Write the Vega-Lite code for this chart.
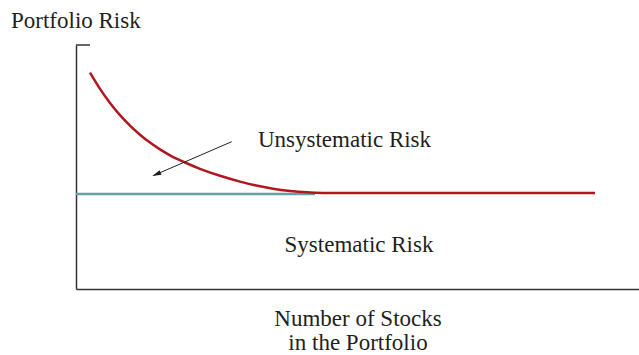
{
  "$schema": "https://vega.github.io/schema/vega-lite/v6.json",
  "width": 563,
  "height": 244,
  "autosize": {"type": "none"},
  "padding": {"left": 76, "top": 45, "right": 0, "bottom": 66},
  "background": "white",
  "config": {"view": {"stroke": null}},
  "datasets": {
    "curve": [
      {"n": 14, "risk": 216.3},
      {"n": 24, "risk": 200.1},
      {"n": 34, "risk": 186},
      {"n": 44, "risk": 173.9},
      {"n": 54, "risk": 163.4},
      {"n": 64, "risk": 154.3},
      {"n": 74, "risk": 146.4},
      {"n": 84, "risk": 139.6},
      {"n": 94, "risk": 133.7},
      {"n": 109, "risk": 126.5},
      {"n": 124, "risk": 120.2},
      {"n": 144, "risk": 113.2},
      {"n": 164, "risk": 107.4},
      {"n": 179, "risk": 103.7},
      {"n": 197, "risk": 100.3},
      {"n": 214, "risk": 98.1},
      {"n": 231, "risk": 96.7},
      {"n": 239, "risk": 96.3},
      {"n": 254, "risk": 96},
      {"n": 519, "risk": 96}
    ],
    "systematic": [
      {"n": 0, "risk": 95},
      {"n": 239, "risk": 95}
    ],
    "topTick": [{"n": 0, "n2": 14, "risk": 244}],
    "arrow": [{"n": 155.7, "risk": 147.3, "n2": 77.5, "risk2": 113.5}],
    "arrowHead": [{"n": 80.4, "risk": 114.8}],
    "leftLabels": [{"label": "Portfolio Risk", "n": -65, "risk": 261}],
    "centerLabels": [
      {"label": "Unsystematic Risk", "n": 268.5, "risk": 142.3},
      {"label": "Systematic Risk", "n": 283, "risk": 37.3},
      {"label": "Number of Stocks", "n": 282, "risk": -37},
      {"label": "in the Portfolio", "n": 282, "risk": -61}
    ]
  },
  "layer": [
    {
      "data": {"name": "systematic"},
      "mark": {"type": "line", "color": "#6a9fa6", "strokeWidth": 2.5},
      "encoding": {
        "x": {"field": "n", "type": "quantitative", "scale": {"domain": [0, 563], "nice": false, "zero": false},
              "axis": {"title": null, "labels": false, "ticks": false, "grid": false, "domainColor": "#333333", "domainWidth": 1.5}},
        "y": {"field": "risk", "type": "quantitative", "scale": {"domain": [0, 244], "nice": false, "zero": false},
              "axis": {"title": null, "labels": false, "ticks": false, "grid": false, "domainColor": "#333333", "domainWidth": 1.5}}
      }
    },
    {
      "data": {"name": "curve"},
      "mark": {"type": "line", "color": "#b0171f", "strokeWidth": 2.5, "interpolate": "monotone"},
      "encoding": {
        "x": {"field": "n", "type": "quantitative", "scale": {"domain": [0, 563], "nice": false, "zero": false}},
        "y": {"field": "risk", "type": "quantitative", "scale": {"domain": [0, 244], "nice": false, "zero": false}}
      }
    },
    {
      "data": {"name": "topTick"},
      "mark": {"type": "rule", "color": "#333333", "strokeWidth": 1.5},
      "encoding": {
        "x": {"field": "n", "type": "quantitative", "scale": {"domain": [0, 563], "nice": false, "zero": false}},
        "x2": {"field": "n2"},
        "y": {"field": "risk", "type": "quantitative", "scale": {"domain": [0, 244], "nice": false, "zero": false}}
      }
    },
    {
      "data": {"name": "arrow"},
      "mark": {"type": "rule", "color": "#231f20", "strokeWidth": 1},
      "encoding": {
        "x": {"field": "n", "type": "quantitative", "scale": {"domain": [0, 563], "nice": false, "zero": false}},
        "x2": {"field": "n2"},
        "y": {"field": "risk", "type": "quantitative", "scale": {"domain": [0, 244], "nice": false, "zero": false}},
        "y2": {"field": "risk2"}
      }
    },
    {
      "data": {"name": "arrowHead"},
      "mark": {"type": "point", "shape": "M0,-1L0.55,1L-0.55,1Z", "filled": true, "color": "#231f20", "opacity": 1, "size": 81, "angle": 246.6, "strokeWidth": 0},
      "encoding": {
        "x": {"field": "n", "type": "quantitative", "scale": {"domain": [0, 563], "nice": false, "zero": false}},
        "y": {"field": "risk", "type": "quantitative", "scale": {"domain": [0, 244], "nice": false, "zero": false}}
      }
    },
    {
      "data": {"name": "leftLabels"},
      "mark": {"type": "text", "align": "left", "baseline": "alphabetic", "font": "Liberation Serif", "fontSize": 23, "color": "#231f20"},
      "encoding": {
        "x": {"field": "n", "type": "quantitative", "scale": {"domain": [0, 563], "nice": false, "zero": false}},
        "y": {"field": "risk", "type": "quantitative", "scale": {"domain": [0, 244], "nice": false, "zero": false}},
        "text": {"field": "label"}
      }
    },
    {
      "data": {"name": "centerLabels"},
      "mark": {"type": "text", "align": "center", "baseline": "alphabetic", "font": "Liberation Serif", "fontSize": 23, "color": "#231f20"},
      "encoding": {
        "x": {"field": "n", "type": "quantitative", "scale": {"domain": [0, 563], "nice": false, "zero": false}},
        "y": {"field": "risk", "type": "quantitative", "scale": {"domain": [0, 244], "nice": false, "zero": false}},
        "text": {"field": "label"}
      }
    }
  ]
}
